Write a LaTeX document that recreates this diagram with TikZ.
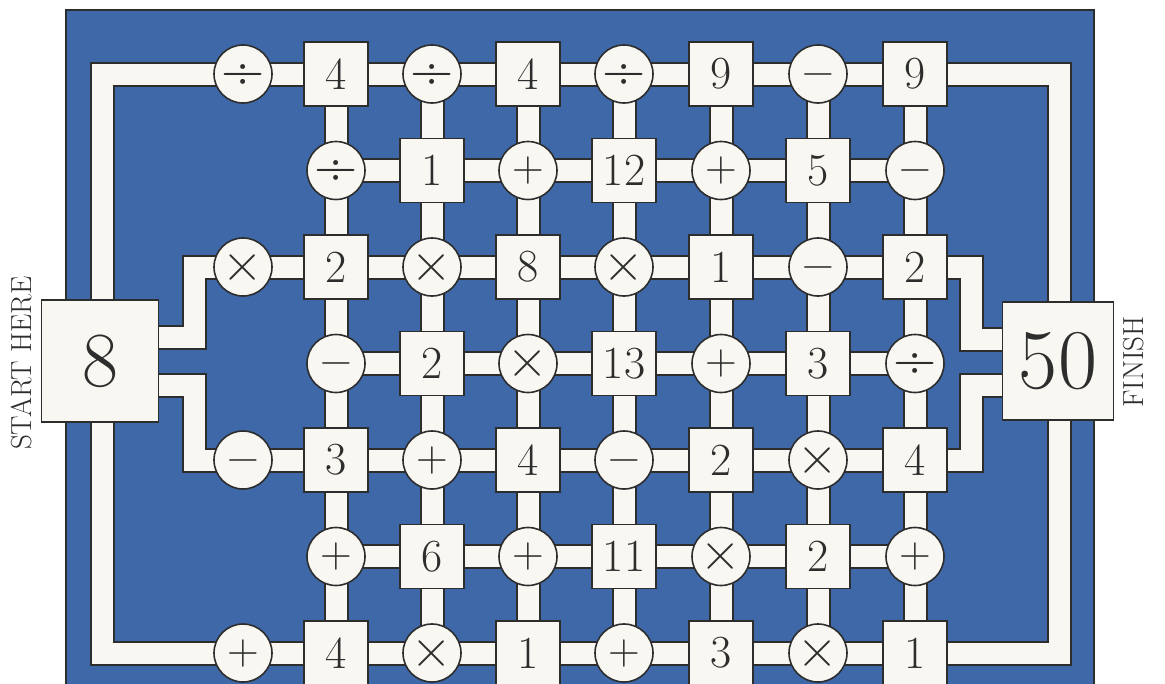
\documentclass[tikz,border=0pt]{standalone}
\usepackage{fontspec}
\usetikzlibrary{calc}
\definecolor{bgblue}{RGB}{62,104,168}
\definecolor{ink}{RGB}{45,45,45}
\definecolor{paper}{RGB}{248,247,242}
\pgfdeclarelayer{bottom}
\pgfdeclarelayer{roads}
\pgfsetlayers{bottom,roads,main}
\tikzset{
  opc/.style={circle, draw=ink, line width=1.6pt, fill=paper, minimum size=58pt, inner sep=0pt,
    font=\fontsize{44}{44}\selectfont, text=ink, text height=22pt, text depth=0pt},
  opx/.style={opc, font=\fontsize{56}{56}\selectfont, text height=28pt},
  opd/.style={opc, font=\fontsize{60}{60}\selectfont, text height=30pt},
  numb/.style={rectangle, draw=ink, line width=1.6pt, fill=paper, minimum size=64pt, inner sep=0pt,
    font=\fontsize{46}{46}\selectfont, text=ink},
  bigbox/.style={rectangle, draw=ink, line width=1.6pt, fill=paper, inner sep=0pt, text=ink},
  roadout/.style={draw=ink, line width=25pt, line join=miter},
  roadin/.style={draw=paper, line width=21pt, line join=miter},
  sidelbl/.style={rotate=90, text=ink, font=\fontsize{29}{29}\selectfont}
}
\newcommand\roadnet[1]{%
  \foreach \r in {1,3,5,7} \draw[#1] (p-\r-0) -- (p-\r-7);
  \foreach \r in {2,4,6} \draw[#1] (p-\r-1) -- (p-\r-7);
  \foreach \c in {1,...,7} \draw[#1] (p-1-\c) -- (p-7-\c);
  \draw[#1] (p-1-0) -- (tl) -- (bl) -- (p-7-0);
  \draw[#1] (p-1-7) -- (tr) -- (br) -- (p-7-7);
  \draw[#1] ([yshift=24pt]start.east) -| (jl3) -- (p-3-0);
  \draw[#1] ([yshift=-24pt]start.east) -| (jl5) -- (p-5-0);
  \draw[#1] (p-3-7) -- (jr3) |- ([yshift=22pt]finish.west);
  \draw[#1] (p-5-7) -- (jr5) |- ([yshift=-24pt]finish.west);
}
\begin{document}
\begin{tikzpicture}[x=1pt,y=-1pt]
\useasboundingbox (0,0) rectangle (1165,683);
\clip (0,0) rectangle (1165,683);
% grid coordinates
\foreach \c/\x in {0/243,1/336,2/432,3/528,4/624,5/721,6/818,7/915}{
  \foreach \r/\y in {1/74,2/170.5,3/267,4/363.5,5/460,6/556.5,7/653}{
    \coordinate (p-\r-\c) at (\x,\y);
  }
}
\coordinate (tl) at (102.5,74);
\coordinate (bl) at (102.5,653);
\coordinate (tr) at (1059,74);
\coordinate (br) at (1059,653);
\coordinate (jl3) at (194,267);
\coordinate (jl5) at (194,460);
\coordinate (jr3) at (971,267);
\coordinate (jr5) at (971,460);
% background board
\begin{pgfonlayer}{bottom}
  \fill[bgblue] (66,10) rectangle (1094,700);
  \draw[ink, line width=1.2pt] (66,700) -- (66,10) -- (1094,10) -- (1094,700);
\end{pgfonlayer}
% cells
\foreach \r/\c/\t/\s in {
  1/0/opd/÷, 1/1/numb/4, 1/2/opd/÷, 1/3/numb/4, 1/4/opd/÷, 1/5/numb/9, 1/6/opc/−, 1/7/numb/9,
  2/1/opd/÷, 2/2/numb/1, 2/3/opc/+, 2/4/numb/12, 2/5/opc/+, 2/6/numb/5, 2/7/opc/−,
  3/0/opx/×, 3/1/numb/2, 3/2/opx/×, 3/3/numb/8, 3/4/opx/×, 3/5/numb/1, 3/6/opc/−, 3/7/numb/2,
  4/1/opc/−, 4/2/numb/2, 4/3/opx/×, 4/4/numb/13, 4/5/opc/+, 4/6/numb/3, 4/7/opd/÷,
  5/0/opc/−, 5/1/numb/3, 5/2/opc/+, 5/3/numb/4, 5/4/opc/−, 5/5/numb/2, 5/6/opx/×, 5/7/numb/4,
  6/1/opc/+, 6/2/numb/6, 6/3/opc/+, 6/4/numb/11, 6/5/opx/×, 6/6/numb/2, 6/7/opc/+,
  7/0/opc/+, 7/1/numb/4, 7/2/opx/×, 7/3/numb/1, 7/4/opc/+, 7/5/numb/3, 7/6/opx/×, 7/7/numb/1}{
  \node[\t] (n-\r-\c) at (p-\r-\c) {\s};
}
\node[bigbox, minimum width=117pt, minimum height=122pt, font=\fontsize{78}{78}\selectfont] (start) at (100,361) {8};
\node[bigbox, minimum width=111pt, minimum height=118pt, font=\fontsize{85}{85}\selectfont] (finish) at (1058,361) {50};
\node[sidelbl] (startlbl) at (21,363) {START HERE};
\node[sidelbl] (finishlbl) at (1134,362) {FINISH};
% roads
\begin{pgfonlayer}{roads}
  \roadnet{roadout}
  \roadnet{roadin}
\end{pgfonlayer}
\end{tikzpicture}
\end{document}
